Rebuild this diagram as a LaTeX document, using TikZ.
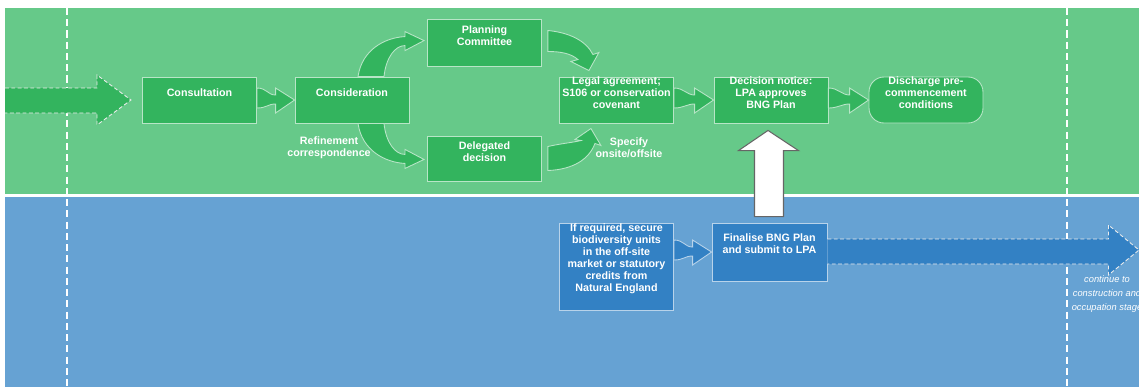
\documentclass[tikz,border=0pt]{standalone}
\usepackage{fontspec}
\setmainfont{Liberation Sans}
\usepackage{xcolor}
\usetikzlibrary{calc}
\definecolor{bandgreen}{HTML}{66C989}
\definecolor{boxgreen}{HTML}{33B45E}
\definecolor{bandblue}{HTML}{66A2D3}
\definecolor{boxblue}{HTML}{3381C4}

% block arrow from one box to the next (tip on the west side of #3)
\newcommand{\flowarrow}[3][boxgreen]{%
	\filldraw[fill=#1, draw=white!65!#1, line width=0.5pt]
		($(#2.east |- #3.west)+(0,-12)$) .. controls +(10,0) and +(-8,0) .. ($(#3.west)+(-19,-5)$)
		-- ($(#3.west)+(-19,-12)$) -- (#3.west) -- ($(#3.west)+(-19,13)$) -- ($(#3.west)+(-19,4)$)
		.. controls +(-8,0) and +(10,0) .. ($(#2.east |- #3.west)+(0,8)$) -- cycle;}

\begin{document}
\begin{tikzpicture}[x=0.02cm, y=-0.02cm,
	gbox/.style={draw=white!65!boxgreen, fill=boxgreen, line width=0.5pt, minimum width=2.28cm, minimum height=0.92cm, inner sep=0pt},
	bbox/.style={gbox, draw=white!65!boxblue, fill=boxblue},
	txt/.style={text=white, font=\bfseries\fontsize{6.1}{6.8}\selectfont, align=center, inner sep=0pt},
	intext/.style={txt, yshift=4pt},
	curvearrow/.style={fill=boxgreen, draw=white!65!boxgreen, line width=0.5pt},
	dasharrow/.style={draw=white!85!gray, line width=0.5pt, dash pattern=on 2.2pt off 1.4pt},
	lanedash/.style={draw=white, line width=0.6pt, dash pattern=on 4pt off 2.4pt},
	upblock/.style={fill=white, draw=black!60, line width=0.6pt}]
		\useasboundingbox (0,0) rectangle (1139,387);
		% lanes
		\fill[bandgreen] (5,8) rectangle (1139,193.5);
		\fill[bandblue] (5,196.5) rectangle (1139,387);
		\foreach \x in {67,1067} {
			\draw[lanedash] (\x,8) -- (\x,387);
		}
		% coming in from the previous stage
		\draw[dasharrow, fill=boxgreen] (5,88) -- (97,88) -- (97,75) -- (131,100) -- (97,125) -- (97,113) -- (5,113);

		% planning lane
		\node[gbox, label={[intext]center:Consultation}] (consult) at (199.5,100) {};
		\node[gbox, label={[intext]center:Consideration}] (consid) at (352,100) {};
		\node[gbox, minimum height=0.94cm, label={[intext]center:{Planning\\Committee}}] (plan) at (484.5,42.5) {};
		\node[gbox, minimum height=0.9cm, label={[intext]center:{Delegated\\decision}}] (deleg) at (484.5,158.5) {};
		\node[gbox, label={[intext]center:{Legal agreement;\\S106 or conservation\\covenant}}] (legal) at (616.5,100) {};
		\node[gbox, label={[intext]center:{Decision notice:\\LPA approves\\BNG Plan}}] (dec) at (771,100) {};
		\node[gbox, rounded corners=8.5pt, label={[intext]center:{Discharge pre-\\commencement\\conditions}}] (disch) at (926,100) {};
		\node[txt] (refine) at (329,147.5) {Refinement\\correspondence};
		\node[txt] (specify) at (629,148) {Specify\\onsite/offsite};

		% biodiversity lane
		\node[bbox, minimum height=1.74cm, label={[txt,yshift=4.3pt]center:{If required, secure\\biodiversity units\\in the off-site\\market or statutory\\credits from\\Natural England}}] (req) at (616.5,266.5) {};
		\node[bbox, minimum width=2.3cm, minimum height=1.16cm, label={[txt,yshift=4.5pt]center:{Finalise BNG Plan\\and submit to LPA}}] (fin) at (769.5,252) {};

		\flowarrow{consult}{consid}
		\flowarrow{legal}{dec}
		\flowarrow{dec}{disch}
		\flowarrow[boxblue]{req}{fin}

		% curved arrows round the decision route
		\begin{scope}[shift={(consid.north)}]
			\filldraw[curvearrow] (6,0) .. controls (10,-27) and (33,-39) .. (53,-40) -- (53,-45) -- (72,-36) -- (53,-26) -- (53,-31) .. controls (43,-31) and (34,-19) .. (32,0) -- cycle;
		\end{scope}
		\begin{scope}[shift={(consid.south)}]
			\filldraw[curvearrow] (6,0) .. controls (10,27) and (33,39) .. (53,40) -- (53,45) -- (72,36) -- (53,26) -- (53,31) .. controls (43,31) and (34,19) .. (32,0) -- cycle;
		\end{scope}
		\begin{scope}[shift={(plan.east)}]
			\filldraw[curvearrow] (6,-12) .. controls (27,-10) and (44,-2) .. (51,12) -- (57,10) -- (47,28) -- (29,19) -- (36,17) .. controls (29,11) and (19,9) .. (6,9) -- cycle;
		\end{scope}
		\begin{scope}[shift={(deleg.east)}]
			\filldraw[curvearrow] (6,-12) .. controls (19,-15) and (31,-16) .. (39,-18) -- (33,-19) -- (49,-30) -- (59,-13) -- (53,-15) .. controls (47,1) and (31,11) .. (6,12) -- cycle;
		\end{scope}

		% plan goes up for approval
		\draw[upblock] ($(fin.north)+(-15,-6)$) -- ++(0,-66) -- ++(-16,0) -- ($(dec.south)+(-3,7)$) -- ($(fin.north)+(29,-72)$) -- ++(-15,0) -- ++(0,66) -- cycle;

		% on to the next stage
		\coordinate (cont) at (1139,250);
		\draw[dasharrow, fill=boxblue] ($(fin.east)+(0,-13)$) -- ++(281,0) -- ++(0,-14) -- (cont) -- ($(fin.east)+(281,23)$) -- ++(0,-11) -- ($(fin.east)+(0,12)$);
		\node[txt, font=\itshape\fontsize{5.3}{8}\selectfont] (cont-t) at (1107,294) {continue to\\construction and\\occupation stage};
	\end{tikzpicture}
\end{document}
